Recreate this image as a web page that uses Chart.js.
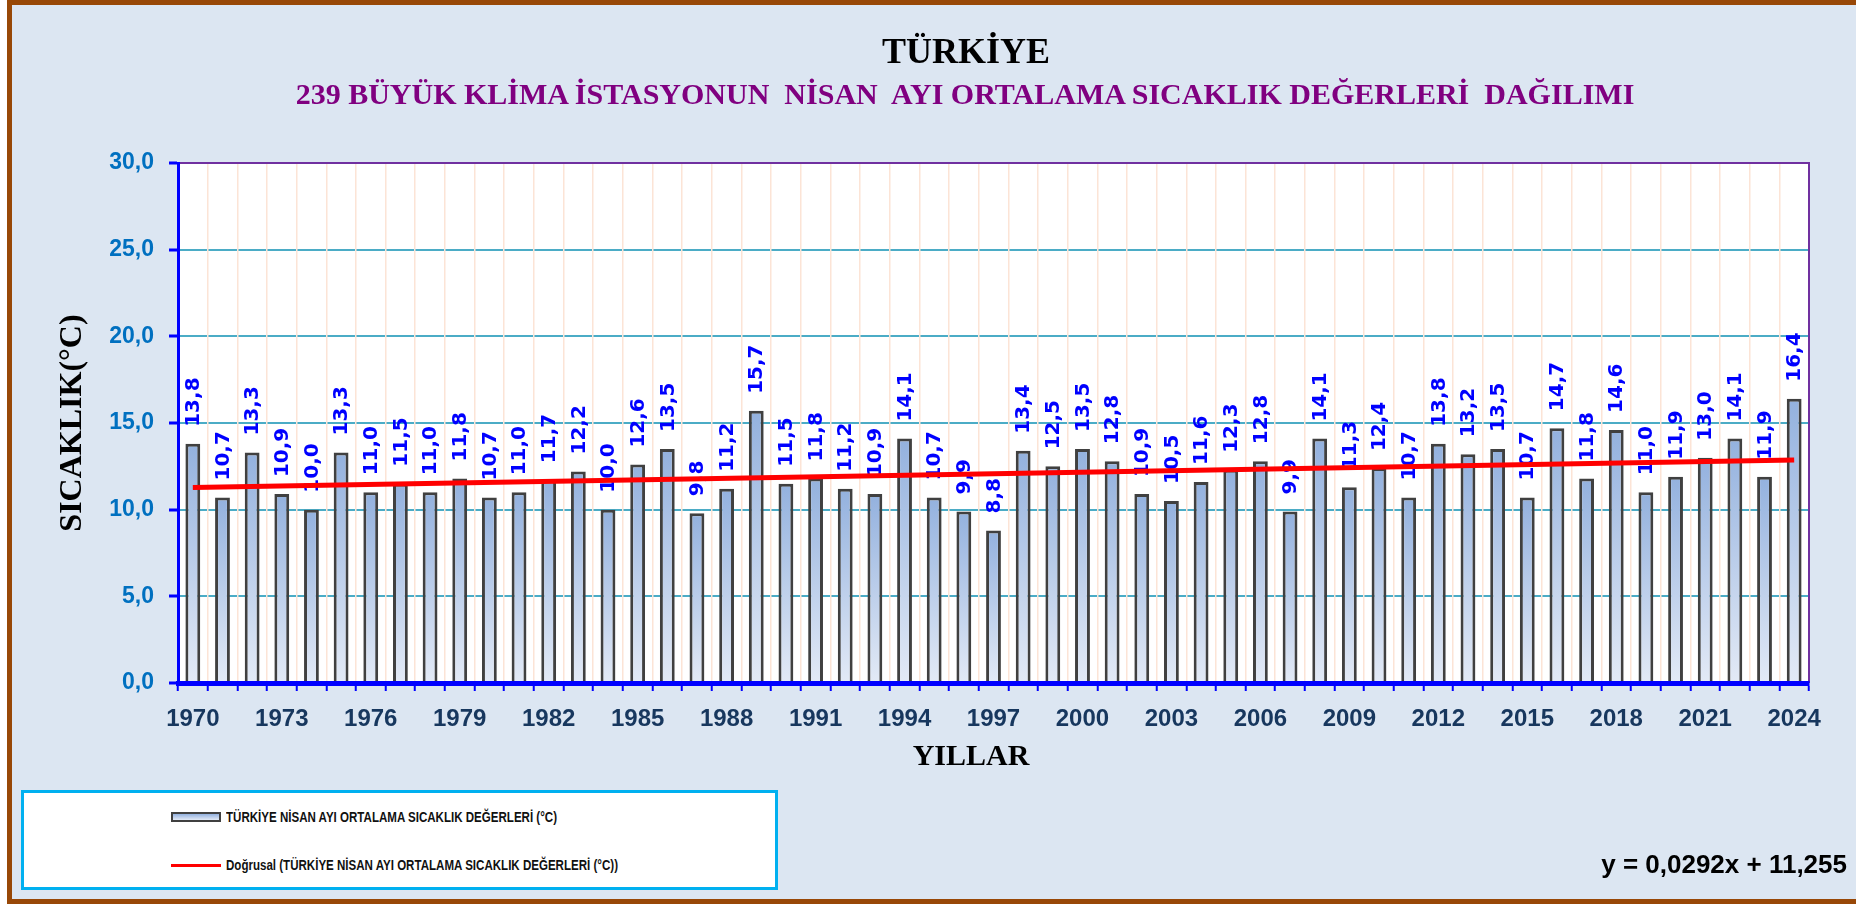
<!DOCTYPE html>
<html>
<head>
<meta charset="utf-8">
<script src="https://cdn.jsdelivr.net/npm/chart.js@4.4.1/dist/chart.umd.min.js"></script>
<style>
  body { margin: 0; background: #fff; width: 1856px; height: 904px; overflow: hidden; position: relative; }
  #frame { position: absolute; left: 7px; top: 0; width: 1900px; height: 904px; box-sizing: border-box;
           border: 5px solid #984807; background: #dce6f2; }
  canvas { position: absolute; left: 0; top: 0; }
  .txt { position: absolute; white-space: pre; }
  #title { left: 966px; top: 33px; transform: translateX(-50%); font: bold 36px/36px "Liberation Serif"; color: #000; }
  #subtitle { left: 965px; top: 79px; transform: translateX(-50%); font: bold 30px/30px "Liberation Serif"; color: #800080; }
  #xtitle { left: 971px; top: 740px; transform: translateX(-50%); font: bold 30px/30px "Liberation Serif"; color: #000; }
  #equation { right: 9px; top: 851px; font: bold 26px/26px "Liberation Sans"; color: #000; }
  #legend { position: absolute; left: 21px; top: 790px; width: 757px; height: 100px; box-sizing: border-box;
            border: 3px solid #00b0f0; background: #fff; }
  #legend .swatch { position: absolute; left: 147px; width: 50px; box-sizing: border-box; }
  #legend .label { position: absolute; left: 202px; font: bold 15px/16px "Liberation Sans"; color: #111;
                   white-space: pre; transform: scaleX(0.77); transform-origin: 0 50%; }
</style>
</head>
<body>
<div id="frame"></div>
<canvas id="chart" width="1856" height="904"></canvas>
<div class="txt" id="title">TÜRKİYE</div>
<div class="txt" id="subtitle">239 BÜYÜK KLİMA İSTASYONUN  NİSAN  AYI ORTALAMA SICAKLIK DEĞERLERİ  DAĞILIMI</div>
<div class="txt" id="xtitle">YILLAR</div>
<div id="legend"></div>
<div class="txt" id="equation">y = 0,0292x + 11,255</div>
<script>
// April mean temperatures, Turkey, 1970-2024
const years = [
  "1970", "1971", "1972", "1973", "1974", "1975", "1976", "1977", "1978", "1979",
  "1980", "1981", "1982", "1983", "1984", "1985", "1986", "1987", "1988", "1989",
  "1990", "1991", "1992", "1993", "1994", "1995", "1996", "1997", "1998", "1999",
  "2000", "2001", "2002", "2003", "2004", "2005", "2006", "2007", "2008", "2009",
  "2010", "2011", "2012", "2013", "2014", "2015", "2016", "2017", "2018", "2019",
  "2020", "2021", "2022", "2023", "2024",
];
const temps = [
  13.8, 10.7, 13.3, 10.9, 10.0, 13.3, 11.0, 11.5, 11.0, 11.8,
  10.7, 11.0, 11.7, 12.2, 10.0, 12.6, 13.5, 9.8, 11.2, 15.7,
  11.5, 11.8, 11.2, 10.9, 14.1, 10.7, 9.9, 8.8, 13.4, 12.5,
  13.5, 12.8, 10.9, 10.5, 11.6, 12.3, 12.8, 9.9, 14.1, 11.3,
  12.4, 10.7, 13.8, 13.2, 13.5, 10.7, 14.7, 11.8, 14.6, 11.0,
  11.9, 13.0, 14.1, 11.9, 16.4,
];
// red linear trend, read at the first and last year
const trendStart = 11.28;
const trendEnd = 12.86;
const yTicks = [0, 5, 10, 15, 20, 25, 30];

const barLabel = "TÜRKİYE NİSAN AYI ORTALAMA SICAKLIK DEĞERLERİ (°C)";
const trendLabel = "Doğrusal (TÜRKİYE NİSAN AYI ORTALAMA SICAKLIK DEĞERLERİ (°C))";

const trend = years.map((_, i) => (i === 0 ? trendStart : i === years.length - 1 ? trendEnd : null));
const fmt = (v) => v.toFixed(1).replace(".", ",");

function barFill(ctx) {
  const chart = ctx.chart;
  const area = chart.chartArea;
  if (!area || ctx.type !== "data") return "#a9c0e4";
  const top = chart.scales.y.getPixelForValue(ctx.raw);
  const g = chart.ctx.createLinearGradient(0, top, 0, area.bottom);
  g.addColorStop(0, "#93b1de");
  g.addColorStop(1, "#e3eaf6");
  return g;
}

// white plot area, purple frame on top/right
const plotArea = {
  id: "plotArea",
  beforeDraw(chart) {
    const { ctx, chartArea: a } = chart;
    ctx.save();
    ctx.fillStyle = "#fff";
    ctx.fillRect(a.left, a.top, a.right - a.left, a.bottom - a.top);
    ctx.restore();
  },
  beforeDatasetsDraw(chart) {
    const { ctx, chartArea: a } = chart;
    ctx.save();
    ctx.strokeStyle = "#7030a0";
    ctx.lineWidth = 2;
    ctx.beginPath();
    ctx.moveTo(a.left, a.top);
    ctx.lineTo(a.right, a.top);
    ctx.lineTo(a.right, a.bottom);
    ctx.stroke();
    ctx.restore();
  },
};

// rotated value labels above each bar, under the trend line
const valueLabels = {
  id: "valueLabels",
  afterDatasetDraw(chart, args) {
    if (args.index !== 0) return;
    const ctx = chart.ctx;
    ctx.save();
    ctx.fillStyle = "#0000ff";
    ctx.font = "bold 20px 'DejaVu Sans'";
    ctx.textAlign = "left";
    ctx.textBaseline = "middle";
    args.meta.data.forEach((bar, i) => {
      ctx.save();
      ctx.translate(bar.x + 1, bar.y - 17);
      ctx.rotate(-Math.PI / 2);
      ctx.fillText(fmt(temps[i]), 0, 0);
      ctx.restore();
    });
    ctx.restore();
  },
};

const chart = new Chart(document.getElementById("chart"), {
  data: {
    labels: years,
    datasets: [
      {
        type: "bar",
        label: barLabel,
        data: temps,
        backgroundColor: barFill,
        borderColor: "#404040",
        borderWidth: 3,
        barPercentage: 0.5,
        categoryPercentage: 1,
        order: 1,
      },
      {
        type: "line",
        label: trendLabel,
        data: trend,
        borderColor: "#ff0000",
        borderWidth: 5,
        pointRadius: 0,
        spanGaps: true,
        fill: false,
        order: 0,
      },
    ],
  },
  options: {
    responsive: false,
    animation: false,
    devicePixelRatio: 1,
    layout: { padding: { left: 0, right: 47, top: 163, bottom: 121 } },
    plugins: { legend: { display: false }, tooltip: { enabled: false } },
    scales: {
      x: {
        offset: true,
        grid: { offset: true, color: "#fce4d6", lineWidth: 1.5, tickColor: "#0000ff", tickLength: 8, tickWidth: 2 },
        border: { color: "#0000ff", width: 5, z: 1 },
        ticks: {
          autoSkip: false,
          maxRotation: 0,
          padding: 14,
          color: "#17375e",
          font: { family: "Liberation Sans", weight: "bold", size: 24 },
          callback: (v, i) => (i % 3 === 0 ? years[i] : ""),
        },
        afterFit: (s) => { s.height = 100; },
      },
      y: {
        min: 0,
        max: 30,
        afterBuildTicks: (s) => { s.ticks = yTicks.map((v) => ({ value: v })); },
        grid: {
          z: -2,
          color: (c) => (c.tick && c.tick.value === 30 ? "rgba(0,0,0,0)" : "#4bacc6"),
          lineWidth: 2,
          tickColor: "#0000ff",
          tickLength: 9,
          tickWidth: 3,
        },
        border: { color: "#0000ff", width: 3, z: 1 },
        ticks: {
          padding: 15,
          color: "#0070c0",
          font: { family: "Liberation Sans", weight: "bold", size: 23 },
          callback: (v) => fmt(v),
        },
        title: {
          display: true,
          text: "SICAKLIK(°C)",
          color: "#000",
          font: { family: "Liberation Serif", weight: "bold", size: 32 },
          padding: { top: 54 },
        },
        afterFit: (s) => { s.width = 178; },
      },
    },
  },
  plugins: [plotArea, valueLabels],
});

// legend box built from the datasets
const legend = document.getElementById("legend");
chart.data.datasets.forEach((ds, i) => {
  const cy = i === 0 ? 23.5 : 72;
  const sw = document.createElement("div");
  sw.className = "swatch";
  if (ds.type === "bar") {
    sw.style.top = cy - 5 + "px";
    sw.style.height = "10px";
    sw.style.border = "2.5px solid #404040";
    sw.style.background = "linear-gradient(#93b1de, #e3eaf6)";
  } else {
    sw.style.top = cy - 1.5 + "px";
    sw.style.height = "3px";
    sw.style.background = ds.borderColor;
  }
  const lb = document.createElement("div");
  lb.className = "label";
  lb.style.top = cy - 8 + "px";
  lb.textContent = ds.label;
  legend.appendChild(sw);
  legend.appendChild(lb);
});
</script>
</body>
</html>
